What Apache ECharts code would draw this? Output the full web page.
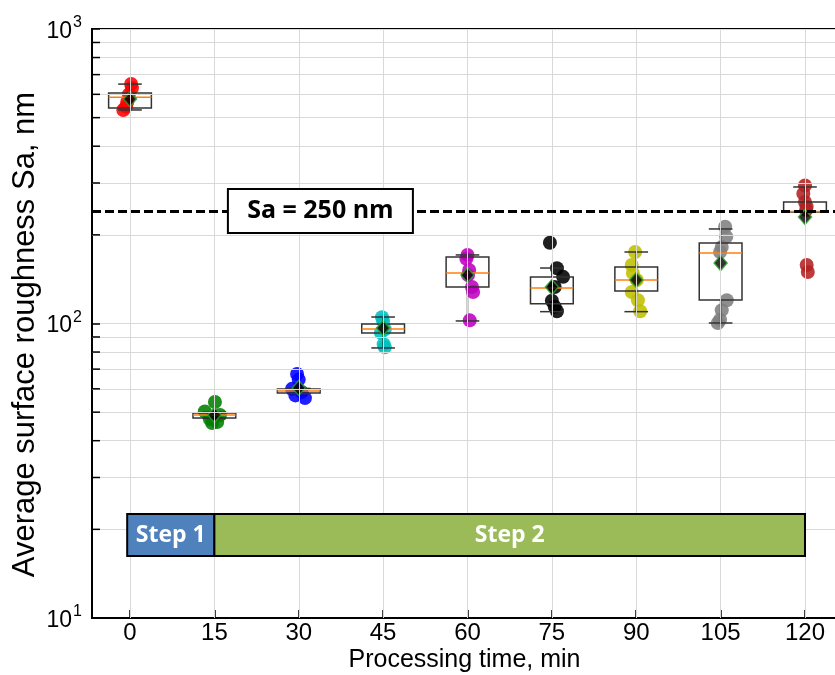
<!DOCTYPE html>
<html><head><meta charset="utf-8">
<script src="https://cdn.jsdelivr.net/npm/echarts@6/dist/echarts.min.js"></script>
<style>html,body{margin:0;padding:0;background:#fff}#c{width:835px;height:675px}</style>
</head><body><div id="c"></div>
<script>
// ---------------- data ----------------
const times = [0, 15, 30, 45, 60, 75, 90, 105, 120];
const xTickLabels = ['0', '15', '30', '45', '60', '75', '90', '105', '120'];
const yMajorTicks = [10, 100, 1000];
const yMinorTicks = [20, 30, 40, 50, 60, 70, 80, 90, 200, 300, 400, 500, 600, 700, 800, 900];

const whiskerLow  = [531, 47.6, 57.8, 82.6, 102, 109.7, 109.7, 100.4, 239];
const quart1      = [539, 47.8, 58.1, 92.8, 133, 116.7, 128.9, 120.2, 239];
const medians     = [587, 48.9, 59.0, 95.8, 148.5, 132, 140.5, 173.5, 240];
const quart3      = [606, 49.7, 59.9, 99.6, 168.2, 143.8, 155.6, 187.6, 258.5];
const whiskerHigh = [650, 50.0, 60.2, 105.2, 170.9, 154.3, 174.9, 209.4, 290.8];
const means       = [578, 48.9, 60.4, 96.5, 146, 133, 140.5, 160.5, 230];

const pointValues = [
  [651, 630, 600, 565, 545, 531],
  [54.1, 50.3, 48.9, 47.4, 46.3, 45.9],
  [67.4, 64.5, 60, 58.5, 57, 55.8],
  [105, 102, 95.5, 93, 85, 83],
  [171, 166, 152, 146, 133, 128, 102.5],
  [188, 154, 144, 133, 119.5, 114, 110],
  [175, 158, 148.5, 140.5, 128, 120, 110],
  [213, 197, 182, 175, 120, 111, 103, 100.4],
  [294, 276, 258.5, 249, 243, 158, 149.6]
];
// horizontal scatter of the dots around each time (minutes)
const pointOffsets = [
  [0.2, 0.35, -0.2, -0.5, -0.7, -1.2],
  [0.1, -1.7, 1.0, -0.8, 0.5, -0.4],
  [-0.3, 0, -1.2, 0.5, -0.6, 1.1],
  [-0.2, 0, 0.3, -0.4, 0.1, 0.3],
  [0, -0.2, 0.3, 0.1, 0.8, 1.0, 0.4],
  [-0.35, 0.9, 2.0, 0.5, 0, 0.5, 0.9],
  [-0.2, -0.8, -0.6, 0.1, -0.8, 0.3, 0.7],
  [0.8, 1.0, 0.2, -0.1, 1.1, 0.2, -0.1, -0.5],
  [0, -0.3, 0, 0.3, 0.2, 0.3, 0.5]
];
const pointColors = ['#ff0000', '#008000', '#0000ff', '#00bfbf', '#bf00bf', '#000000', '#bfbf00', '#808080', '#b22222'];

const thresholdLine = 241;          // where the dashed line sits in the picture
const thresholdLabel = 'Sa = 250 nm';
const thresholdLabelX = 33.85;

const stepNames = ['Step 1', 'Step 2'];
const stepStart = [-0.5, 15];
const stepEnd = [15, 120];
const stepColors = ['#4f81bd', '#9bbb59'];

// ---------------- layout ----------------
const X_MIN = -6.756, X_MAX = 125.69;
const BOX_HALF = 3.8, CAP_HALF = 2.1;
const STEP_Y_LOW = 16.24, STEP_Y_HIGH = 22.55;
const FONT = '"Liberation Sans", Arial, sans-serif';

const chart = echarts.init(document.getElementById('c'), null, {renderer: 'canvas'});

const pointSeries = pointValues.map((vals, i) => ({
  type: 'scatter',
  z: 2,
  silent: true,
  symbol: 'circle',
  symbolSize: 14,
  itemStyle: {color: pointColors[i], opacity: 0.88},
  data: vals.map((v, j) => [times[i] + pointOffsets[i][j], v])
}));

const option = {
  animation: false,
  backgroundColor: '#fff',
  grid: {left: 92, right: -2, top: 29, bottom: 57, outerBoundsMode: 'none', containLabel: false,
         show: true, borderColor: '#000', borderWidth: 2, backgroundColor: 'transparent'},
  xAxis: {
    type: 'value', min: X_MIN, max: X_MAX,
    name: 'Processing time, min', nameLocation: 'middle', nameGap: 30, nameMoveOverlap: false,
    nameTextStyle: {fontFamily: FONT, fontSize: 25, color: '#000'},
    axisLine: {onZero: false, lineStyle: {color: '#000', width: 2}},
    axisTick: {inside: true, length: 8, lineStyle: {color: '#000', width: 1.5}, customValues: times},
    axisLabel: {customValues: times, formatter: v => xTickLabels[times.indexOf(v)] ?? '', fontFamily: FONT, fontSize: 24, color: '#000', margin: 3},
    splitLine: {show: false}
  },
  yAxis: {
    type: 'log', logBase: 10, min: 10, max: 1000,
    name: 'Average surface roughness Sa, nm', nameLocation: 'middle', nameGap: 51, nameMoveOverlap: false,
    nameTextStyle: {fontFamily: FONT, fontSize: 31, color: '#000', padding: [0, 22, 0, 0]},
    axisLine: {onZero: false, lineStyle: {color: '#000', width: 2}},
    axisTick: {inside: true, length: 8, lineStyle: {color: '#000', width: 1.5}},
    axisLabel: {
      fontFamily: FONT, color: '#000', margin: 10,
      formatter: v => '{b|10}{s|' + Math.round(Math.log10(v)) + '}',
      rich: {
        b: {fontFamily: FONT, fontSize: 23, color: '#000', verticalAlign: 'bottom'},
        s: {fontFamily: FONT, fontSize: 16, color: '#000', verticalAlign: 'bottom', padding: [0, 0, 12, 1]}
      }
    },
    splitLine: {show: true, lineStyle: {color: '#d9d9d9', width: 1}}
  },
  series: [
    { // grid lines
      type: 'line', data: [], silent: true, z: 0,
      markLine: {
        silent: true, symbol: 'none', label: {show: false},
        lineStyle: {color: '#d9d9d9', width: 1, type: 'solid'},
        data: times.map(t => ({xAxis: t})).concat(yMinorTicks.map(v => ({yAxis: v})))
      }
    },
    { // minor ticks on the left axis
      type: 'custom', silent: true, z: 5,
      data: yMinorTicks.map(v => [X_MIN, v]),
      renderItem: (params, api) => {
        const p = api.coord([api.value(0), api.value(1)]);
        return {type: 'line', shape: {x1: p[0], y1: p[1], x2: p[0] + 8, y2: p[1]}, style: {stroke: '#000', lineWidth: 1.5}};
      }
    },
    { // threshold
      type: 'line', data: [], silent: true, z: 2,
      markLine: {
        silent: true, symbol: 'none', label: {show: false},
        lineStyle: {color: '#000', width: 3, type: [9, 4]},
        data: [{yAxis: thresholdLine}]
      }
    },
    ...pointSeries,
    { // boxes
      type: 'custom', silent: true, z: 3,
      data: times.map((t, i) => [t, whiskerLow[i], quart1[i], medians[i], quart3[i], whiskerHigh[i]]),
      renderItem: (params, api) => {
        const x = api.value(0);
        const lo = api.value(1), a = api.value(2), m = api.value(3), b = api.value(4), hi = api.value(5);
        const xl = api.coord([x - BOX_HALF, a])[0], xr = api.coord([x + BOX_HALF, a])[0];
        const cl = api.coord([x - CAP_HALF, a])[0], cr = api.coord([x + CAP_HALF, a])[0];
        const xc = api.coord([x, a])[0];
        const yLo = api.coord([x, lo])[1], yA = api.coord([x, a])[1], yM = api.coord([x, m])[1], yB = api.coord([x, b])[1], yHi = api.coord([x, hi])[1];
        const st = {stroke: '#333', lineWidth: 1.5, fill: null};
        const ch = [
          {type: 'rect', shape: {x: xl, y: yB, width: xr - xl, height: yA - yB}, style: {stroke: '#333', lineWidth: 1.5, fill: 'rgba(255,255,255,0)'}},
          {type: 'line', shape: {x1: xl, y1: yM, x2: xr, y2: yM}, style: {stroke: '#ff7f0e', lineWidth: 1.5}}
        ];
        if (yLo - yA > 0.5) {
          ch.push({type: 'line', shape: {x1: xc, y1: yA, x2: xc, y2: yLo}, style: st});
          ch.push({type: 'line', shape: {x1: cl, y1: yLo, x2: cr, y2: yLo}, style: st});
        }
        if (yB - yHi > 0.5) {
          ch.push({type: 'line', shape: {x1: xc, y1: yB, x2: xc, y2: yHi}, style: st});
          ch.push({type: 'line', shape: {x1: cl, y1: yHi, x2: cr, y2: yHi}, style: st});
        }
        return {type: 'group', children: ch};
      }
    },
    { // means
      type: 'scatter', silent: true, z: 4,
      symbol: 'diamond', symbolSize: [13, 15],
      itemStyle: {color: '#000', borderColor: '#2ca02c', borderWidth: 1.5},
      data: times.map((t, i) => [t, means[i]])
    },
    { // threshold label
      type: 'custom', silent: true, z: 6,
      data: [[thresholdLabelX, thresholdLine]],
      renderItem: (params, api) => {
        const p = api.coord([api.value(0), api.value(1)]);
        const w = 185, h = 44;
        return {type: 'group', children: [
          {type: 'rect', shape: {x: p[0] - w / 2, y: p[1] - h / 2, width: w, height: h}, style: {fill: '#fff', stroke: '#000', lineWidth: 2}},
          {type: 'text', style: {x: p[0], y: p[1], text: thresholdLabel, align: 'center', verticalAlign: 'middle', fontFamily: '"Open Sans", sans-serif', fontWeight: 'bold', fontSize: 25, fill: '#000'}}
        ]};
      }
    },
    { // steps
      type: 'custom', silent: true, z: 6,
      data: stepNames.map((n, i) => [stepStart[i], stepEnd[i], i]),
      renderItem: (params, api) => {
        const i = api.value(2);
        const p1 = api.coord([api.value(0), STEP_Y_HIGH]);
        const p2 = api.coord([api.value(1), STEP_Y_LOW]);
        return {type: 'group', children: [
          {type: 'rect', shape: {x: p1[0], y: p1[1], width: p2[0] - p1[0], height: p2[1] - p1[1]}, style: {fill: stepColors[i], stroke: '#000', lineWidth: 2}},
          {type: 'text', style: {x: (p1[0] + p2[0]) / 2, y: (p1[1] + p2[1]) / 2, text: stepNames[i], align: 'center', verticalAlign: 'middle', fontFamily: '"Open Sans", sans-serif', fontWeight: 'bold', fontSize: 23, fill: '#fff'}}
        ]};
      }
    }
  ]
};
chart.setOption(option);
</script></body></html>
